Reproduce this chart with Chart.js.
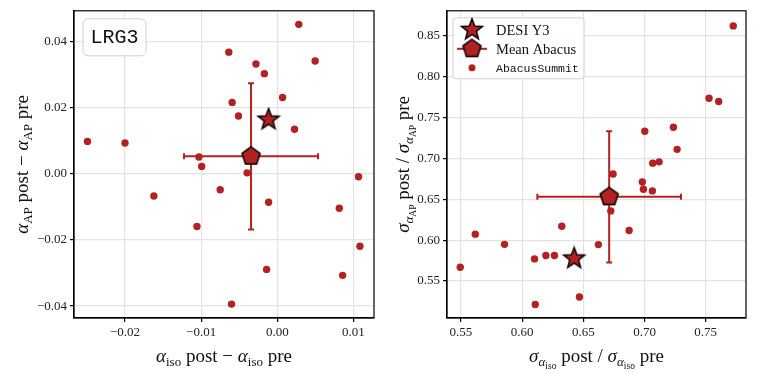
<!DOCTYPE html>
<html>
<head>
<meta charset="utf-8">
<script src="https://cdn.jsdelivr.net/npm/chart.js@4"></script>
<style>
  body { margin: 0; background: #fff; }
  #wrap { position: relative; width: 757px; height: 374px; }
  canvas { position: absolute; top: 0; }
</style>
</head>
<body>
<div id="wrap">
  <canvas id="left" width="380" height="374" style="left:0"></canvas>
  <canvas id="right" width="377" height="374" style="left:380px"></canvas>
</div>
<script>
// left panel: alpha shifts (post - pre), AbacusSummit mocks
const leftX = [0.00282, -0.00637, 0.00497, -0.00280, -0.00170, 0.00069, -0.00593, -0.00510,
  0.00226, -0.02493, -0.02000, -0.01029, -0.00993, -0.00397, -0.01621, -0.00750,
  -0.00114, -0.01055, -0.00140, -0.00601, 0.01067, 0.00814, 0.01085, 0.00858];
const leftY = [0.0452, 0.0368, 0.0341, 0.0332, 0.0303, 0.0231, 0.0216, 0.0175,
  0.0135, 0.0098, 0.0093, 0.0051, 0.0022, 0.0003, -0.0067, -0.0048,
  -0.0086, -0.0159, -0.0289, -0.0394, -0.0009, -0.0104, -0.0219, -0.0307];
const desiLeft = [-0.00114, 0.0164];
const meanLeft = [-0.00345, 0.0053];
const errLeft = [0.0088, 0.0221];
const leftXTicks = [-0.02, -0.01, 0.00, 0.01];
const leftYTicks = [-0.04, -0.02, 0.00, 0.02, 0.04];

// right panel: error ratios post / pre
const rightX = [0.7725, 0.7527, 0.7606, 0.7002, 0.7236, 0.7266, 0.7067, 0.7119,
  0.6743, 0.6982, 0.6991, 0.7064, 0.6724, 0.6874, 0.5617, 0.5856,
  0.5494, 0.6101, 0.6194, 0.6264, 0.6324, 0.6623, 0.6107, 0.6468];
const rightY = [0.8621, 0.7737, 0.7696, 0.7333, 0.7381, 0.7111, 0.6942, 0.6958,
  0.6809, 0.6712, 0.6623, 0.6603, 0.6358, 0.6119, 0.6074, 0.5949,
  0.5668, 0.5771, 0.5812, 0.5812, 0.6171, 0.5946, 0.5214, 0.5304];
const desiRight = [0.6425, 0.5776];
const meanRight = [0.6711, 0.6530];
const errRight = [0.0587, 0.0802];
const rightXTicks = [0.55, 0.60, 0.65, 0.70, 0.75];
const rightYTicks = [0.55, 0.60, 0.65, 0.70, 0.75, 0.80, 0.85];

const RED = '#b22222';
const SERIF = '"Liberation Serif", "DejaVu Serif", serif';
const MONO = '"Liberation Mono", "DejaVu Sans Mono", monospace';

function marker(kind, r) {
  const s = Math.ceil(2 * r + 4);
  const c = document.createElement('canvas');
  c.width = s; c.height = s;
  const g = c.getContext('2d');
  g.translate(s / 2, s / 2);
  g.beginPath();
  if (kind === 'star') {
    for (let i = 0; i < 10; i++) {
      const rr = i % 2 ? r * 0.42 : r;
      const a = -Math.PI / 2 + i * Math.PI / 5;
      g.lineTo(rr * Math.cos(a), rr * Math.sin(a));
    }
  } else {
    for (let i = 0; i < 5; i++) {
      const a = -Math.PI / 2 + i * 2 * Math.PI / 5;
      g.lineTo(r * Math.cos(a), r * Math.sin(a));
    }
  }
  g.closePath();
  g.fillStyle = RED;
  g.fill();
  g.lineWidth = 1.5;
  g.strokeStyle = '#000';
  g.stroke();
  return c;
}
const starImg = marker('star', 11);
const pentImg = marker('pent', 9.5);

// text with sub/subsub scripts: [text, size, dy, italic]
function richWidth(ctx, segs) {
  let w = 0;
  segs.forEach(s => {
    ctx.font = (s[3] ? 'italic ' : '') + s[1] + 'px ' + SERIF;
    w += ctx.measureText(s[0]).width;
  });
  return w;
}
function drawRich(ctx, segs, x, y, rot) {
  ctx.save();
  ctx.translate(x, y);
  if (rot) ctx.rotate(-Math.PI / 2);
  let px = -richWidth(ctx, segs) / 2;
  ctx.fillStyle = '#111';
  ctx.textBaseline = 'alphabetic';
  ctx.textAlign = 'left';
  segs.forEach(s => {
    ctx.font = (s[3] ? 'italic ' : '') + s[1] + 'px ' + SERIF;
    ctx.fillText(s[0], px, s[2]);
    px += ctx.measureText(s[0]).width;
  });
  ctx.restore();
}

function roundBox(ctx, x, y, w, h, r) {
  ctx.beginPath();
  ctx.moveTo(x + r, y);
  ctx.arcTo(x + w, y, x + w, y + h, r);
  ctx.arcTo(x + w, y + h, x, y + h, r);
  ctx.arcTo(x, y + h, x, y, r);
  ctx.arcTo(x, y, x + w, y, r);
  ctx.closePath();
}

const decor = {
  id: 'decor',
  afterDraw(chart, args, opts) {
    const ctx = chart.ctx;
    const a = chart.chartArea;
    ctx.save();
    ctx.strokeStyle = '#000';
    ctx.lineWidth = 1.2;
    ctx.strokeRect(a.left, a.top, a.right - a.left, a.bottom - a.top);
    ctx.restore();
    drawRich(ctx, opts.xTitle, (a.left + a.right) / 2, 362, false);
    drawRich(ctx, opts.yTitle, opts.yTitleX, (a.top + a.bottom) / 2, true);
    if (opts.tag) {
      ctx.save();
      roundBox(ctx, a.left + 9, a.top + 8, 63, 37, 5);
      ctx.fillStyle = 'rgba(255,255,255,0.85)';
      ctx.fill();
      ctx.strokeStyle = '#d0d0d0';
      ctx.lineWidth = 1;
      ctx.stroke();
      ctx.fillStyle = '#111';
      ctx.font = '20px ' + MONO;
      ctx.textAlign = 'center';
      ctx.textBaseline = 'middle';
      ctx.fillText(opts.tag, a.left + 40.5, a.top + 27);
      ctx.restore();
    }
    if (opts.legend) {
      const x0 = a.left + 6, y0 = a.top + 7;
      ctx.save();
      roundBox(ctx, x0, y0, 131, 61, 3);
      ctx.fillStyle = 'rgba(255,255,255,0.85)';
      ctx.fill();
      ctx.strokeStyle = '#d0d0d0';
      ctx.lineWidth = 1;
      ctx.stroke();
      const mx = x0 + 19;
      ctx.drawImage(starImg, mx - starImg.width / 2, y0 + 12 - starImg.height / 2);
      ctx.strokeStyle = RED;
      ctx.lineWidth = 2;
      ctx.beginPath();
      ctx.moveTo(mx - 15, y0 + 31); ctx.lineTo(mx + 15, y0 + 31);
      ctx.stroke();
      ctx.drawImage(pentImg, mx - pentImg.width / 2, y0 + 31 - pentImg.height / 2);
      ctx.fillStyle = RED;
      ctx.beginPath();
      ctx.arc(mx, y0 + 50, 3.5, 0, Math.PI * 2);
      ctx.fill();
      ctx.fillStyle = '#111';
      ctx.textBaseline = 'middle';
      ctx.font = '14.5px ' + SERIF;
      ctx.fillText('DESI Y3', x0 + 43, y0 + 13);
      ctx.fillText('Mean Abacus', x0 + 43, y0 + 32);
      ctx.font = '11.5px ' + MONO;
      ctx.fillText('AbacusSummit', x0 + 43, y0 + 51);
      ctx.restore();
    }
  }
};

function fmt(v) {
  return v.toFixed(2).replace('-', '\u2212');
}

function axis(min, max, ticks, isX, size) {
  return {
    type: 'linear',
    min: min,
    max: max,
    afterBuildTicks: s => { s.ticks = ticks.map(v => ({ value: v })); },
    afterFit: s => { if (isX) s.height = size; else s.width = size; },
    grid: { color: '#e3e3e3', lineWidth: 1.2, tickColor: '#000', tickLength: 4 },
    border: { color: '#000', width: 1.2 },
    ticks: { color: '#222', font: { family: SERIF, size: 13 }, padding: 3, callback: v => fmt(v) }
  };
}

function datasets(xs, ys, desi, mean, err) {
  return [
    { label: 'DESI Y3', data: [{ x: desi[0], y: desi[1] }], pointStyle: starImg },
    { label: 'Mean Abacus', data: [{ x: mean[0], y: mean[1] }], pointStyle: pentImg },
    { label: 'xerr', showLine: true, borderColor: RED, borderWidth: 2,
      data: [{ x: mean[0] - err[0], y: mean[1] }, { x: mean[0] + err[0], y: mean[1] }],
      pointStyle: 'line', rotation: 90, pointRadius: 3, pointBorderColor: RED, pointBorderWidth: 2 },
    { label: 'yerr', showLine: true, borderColor: RED, borderWidth: 2,
      data: [{ x: mean[0], y: mean[1] - err[1] }, { x: mean[0], y: mean[1] + err[1] }],
      pointStyle: 'line', rotation: 0, pointRadius: 3, pointBorderColor: RED, pointBorderWidth: 2 },
    { label: 'AbacusSummit', data: xs.map((x, i) => ({ x: x, y: ys[i] })),
      pointRadius: 3.7, backgroundColor: RED, borderColor: RED, borderWidth: 0 }
  ];
}

const T = 19, S = 13, SS = 9.5;

new Chart(document.getElementById('left'), {
  type: 'scatter',
  data: { datasets: datasets(leftX, leftY, desiLeft, meanLeft, errLeft) },
  options: {
    responsive: false,
    animation: false,
    layout: { padding: { left: 0, right: 4, top: 8, bottom: 0 } },
    scales: {
      x: axis(-0.0267, 0.0127, leftXTicks, true, 56),
      y: axis(-0.0436, 0.0493, leftYTicks, false, 74)
    },
    plugins: {
      legend: { display: false },
      tooltip: { enabled: false },
      decor: {
        tag: 'LRG3',
        yTitleX: 28,
        xTitle: [['α', T, 0, 1], ['iso', S, 4, 0], [' post \u2212 ', T, 0, 0], ['α', T, 0, 1], ['iso', S, 4, 0], [' pre', T, 0, 0]],
        yTitle: [['α', T, 0, 1], ['AP', S, 4, 0], [' post \u2212 ', T, 0, 0], ['α', T, 0, 1], ['AP', S, 4, 0], [' pre', T, 0, 0]]
      }
    }
  },
  plugins: [decor]
});

new Chart(document.getElementById('right'), {
  type: 'scatter',
  data: { datasets: datasets(rightX, rightY, desiRight, meanRight, errRight) },
  options: {
    responsive: false,
    animation: false,
    layout: { padding: { left: 0, right: 11, top: 8, bottom: 0 } },
    scales: {
      x: axis(0.5386, 0.7829, rightXTicks, true, 56),
      y: axis(0.5048, 0.8806, rightYTicks, false, 67)
    },
    plugins: {
      legend: { display: false },
      tooltip: { enabled: false },
      decor: {
        legend: true,
        yTitleX: 29,
        xTitle: [['σ', T, 0, 1], ['α', S, 4, 1], ['iso', SS, 7, 0], [' post / ', T, 0, 0], ['σ', T, 0, 1], ['α', S, 4, 1], ['iso', SS, 7, 0], [' pre', T, 0, 0]],
        yTitle: [['σ', T, 0, 1], ['α', S, 4, 1], ['AP', SS, 7, 0], [' post / ', T, 0, 0], ['σ', T, 0, 1], ['α', S, 4, 1], ['AP', SS, 7, 0], [' pre', T, 0, 0]]
      }
    }
  },
  plugins: [decor]
});
</script>
</body>
</html>
